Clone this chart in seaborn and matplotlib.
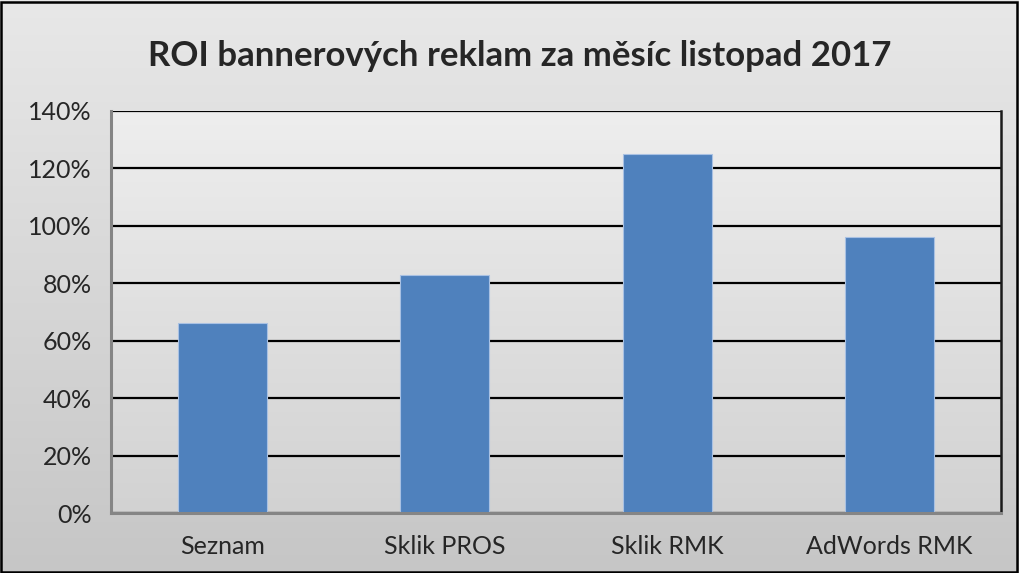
import numpy as np
import pandas as pd
import matplotlib
matplotlib.use("Agg")
import matplotlib.pyplot as plt
import seaborn as sns
from matplotlib.patches import Rectangle
from matplotlib.colors import LinearSegmentedColormap

categories = ["Seznam", "Sklik PROS", "Sklik RMK", "AdWords RMK"]
roi = [66, 83, 125, 96]
yticks = [0, 20, 40, 60, 80, 100, 120, 140]
title = "ROI bannerových reklam za měsíc listopad 2017"

df = pd.DataFrame({"kanal": categories, "roi": roi})

sns.set_style("white")
plt.rcParams["font.family"] = ["Lato", "DejaVu Sans"]

fig = plt.figure(figsize=(10.19, 5.73), dpi=100)

# figure background gradient
bg = fig.add_axes([0, 0, 1, 1], zorder=-5)
fig_cmap = LinearSegmentedColormap.from_list("figbg", ["#e8e8e8", "#c6c6c6"])
bg.imshow(np.linspace(0, 1, 256).reshape(-1, 1), cmap=fig_cmap, aspect="auto",
          extent=[0, 1, 0, 1], origin="upper")
bg.set_axis_off()
fig.patches.append(Rectangle((0.001, 0.002), 0.997, 0.995, transform=fig.transFigure,
                             fill=False, edgecolor="black", linewidth=1.8, zorder=10))

ax = fig.add_axes([0.109, 0.1047, 0.873, 0.7016])
sns.barplot(data=df, x="kanal", y="roi", ax=ax, width=0.4, color="#4f81bd",
            edgecolor="#a9c1e3", linewidth=0.8, saturation=1)

# plot area gradient
ax_cmap = LinearSegmentedColormap.from_list("axbg", ["#eeeeee", "#d2d2d2"])
ax.imshow(np.linspace(0, 1, 256).reshape(-1, 1), cmap=ax_cmap, aspect="auto",
          extent=[0, 1, 0, 1], origin="upper", transform=ax.transAxes, zorder=0)

ax.set_xlim(-0.5, 3.5)
ax.set_ylim(0, 140)
ax.set_yticks(yticks)
ax.set_yticklabels([f"{v}%" for v in yticks], fontsize=18)
ax.set_axisbelow(True)
ax.yaxis.grid(True, color="black", linewidth=1.6)
ax.tick_params(axis="y", length=7, width=1.2, color="#808080", pad=7)
ax.tick_params(axis="x", which="major", length=0, labelsize=18, pad=16)
ax.set_xticks(np.arange(-0.5, 4, 1), minor=True)
ax.tick_params(axis="x", which="minor", length=7, width=1.2, color="#a0a0a0")
ax.set_xlabel("")
ax.set_ylabel("")

for s in ["left", "bottom"]:
    ax.spines[s].set_color("#858585")
    ax.spines[s].set_linewidth(2.2)
ax.spines["top"].set_visible(False)
ax.spines["right"].set_color("#1a1a1a")
ax.spines["right"].set_linewidth(1.8)

fig.text(0.51, 0.903, title, ha="center", va="center", fontsize=25, fontweight="bold")

fig.savefig("out.png", dpi=100)
